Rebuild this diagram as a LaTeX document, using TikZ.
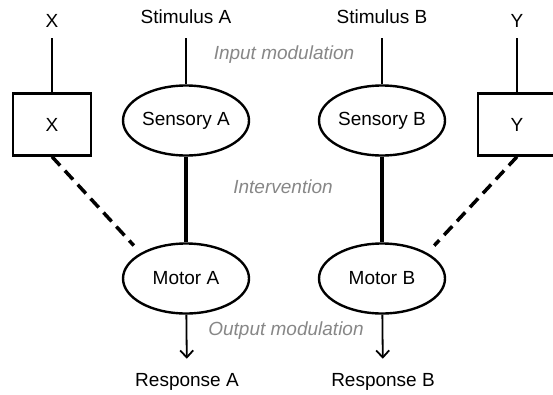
\documentclass[tikz,border=0pt]{standalone}
\usepackage{fontspec}
\setmainfont{Liberation Sans}
\usetikzlibrary{arrows.meta,shapes.geometric}
\definecolor{notegray}{RGB}{135,135,135}
\tikzset{
  txt/.style={inner sep=0pt, font=\fontsize{19}{23}\selectfont},
  note/.style={txt, text=notegray, font=\fontsize{19}{23}\selectfont\itshape},
  areabox/.style={ellipse, draw, line width=2.4pt, minimum width=126pt, minimum height=70pt, inner sep=0pt, font=\fontsize{19}{23}\selectfont},
  sqbox/.style={rectangle, draw, line width=2.4pt, minimum width=78pt, minimum height=62pt, inner sep=0pt, font=\fontsize{19}{23}\selectfont},
  thinline/.style={line width=1.8pt},
  thickline/.style={line width=3.5pt},
  dashlink/.style={line width=3.5pt, dash pattern=on 12pt off 7pt},
  respArrow/.style={line width=1.8pt, -{Straight Barb[length=7pt,width=13pt,line width=1.8pt]}}
}
\begin{document}
\begin{tikzpicture}[x=1pt,y=-1pt]
\clip (0,0) rectangle (553,394);
% labels on top
\node[txt, anchor=base] (xlab) at (52,27) {X};
\node[txt, anchor=base] (stimA) at (186,23) {Stimulus A};
\node[txt, anchor=base] (stimB) at (382,23) {Stimulus B};
\node[txt, anchor=base] (ylab) at (517,27) {Y};
% boxes and ellipses
\node[sqbox] (boxX) at (52,124.5) {X};
\node[sqbox] (boxY) at (517,124.5) {Y};
\node[areabox] (sensA) at (186,120.5) {Sensory A};
\node[areabox] (sensB) at (382,120.5) {Sensory B};
\node[areabox] (motA) at (186,278.5) {Motor A};
\node[areabox] (motB) at (382,278.5) {Motor B};
% responses
\node[txt, anchor=base] (respA) at (187,386) {Response A};
\node[txt, anchor=base] (respB) at (383,386) {Response B};
% notes
\node[note] (inmod) at (284,55) {Input modulation};
\node[note] (interv) at (283,187) {Intervention};
\node[note] (outmod) at (286,331) {Output modulation};
% connectors
\draw[thinline, shorten <=11pt] (xlab) -- (boxX);
\draw[thinline, shorten <=11pt] (ylab) -- (boxY);
\draw[thinline, shorten <=15pt] (stimA) -- (sensA);
\draw[thinline, shorten <=15pt] (stimB) -- (sensB);
\draw[thickline] (sensA) -- (motA);
\draw[thickline] (sensB) -- (motB);
\draw[respArrow, shorten >=14pt] (motA) -- (respA);
\draw[respArrow, shorten >=14pt] (motB) -- (respB);
\draw[dashlink, shorten >=10pt] (boxX.south) -- (motA.north west);
\draw[dashlink, shorten >=10pt] (boxY.south) -- (motB.north east);
\end{tikzpicture}
\end{document}
